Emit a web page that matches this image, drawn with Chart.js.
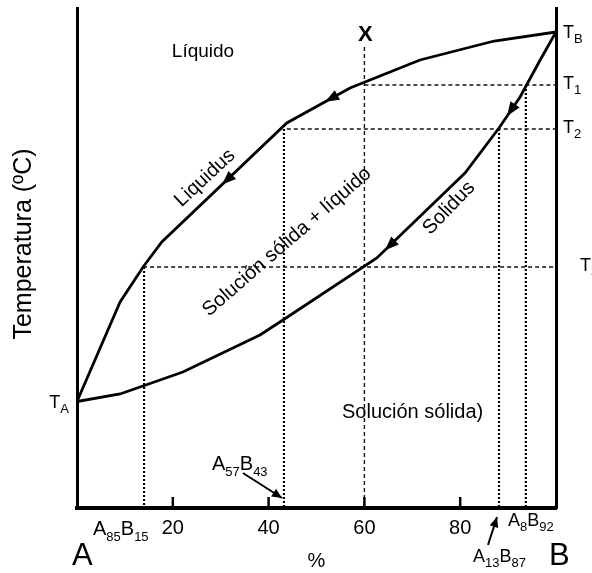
<!DOCTYPE html>
<html>
<head>
<meta charset="utf-8">
<script src="https://cdn.jsdelivr.net/npm/chart.js@4.4.1/dist/chart.umd.min.js"></script>
<style>
  html, body { margin: 0; padding: 0; background: #fff; }
</style>
</head>
<body>
<canvas id="phase" width="592" height="573"></canvas>
<script>
// curves of the A-B diagram: x = % B, y = temperature (relative units, no scale shown)
const liquidusX = [0, 4.2, 9, 13.8, 17.7, 43.8, 57, 71.6, 87.1, 100];
const liquidusY = [21.3, 30.6, 41.2, 48.2, 53.2, 77, 84, 89.6, 93.4, 95.2];
const solidusX = [0, 9, 22.1, 38.2, 43, 62.6, 81, 88.1, 92.5, 96.7, 100];
const solidusY = [21.3, 22.8, 27.2, 34.6, 37.6, 50, 67, 76, 82.2, 89.6, 95.2];

// isotherms T1, T2, T3 and the x where each dashed line starts
const isoNames = ['1', '2', '3'];
const isoTemps = [84.6, 75.8, 48.2];
const isoStartX = [60, 43.8, 13.8];

// compositions read on the isotherms (dotted verticals)
const compX = [14, 43.2, 88.1, 93.7];
const compTop = [48.2, 75.8, 75.8, 84.6];

// alloy X
const alloyX = 60;
const alloyTop = 92.2;

const xTicks = [20, 40, 60, 80];
const tempA = 21.3;
const tempB = 95.2;

// where the arrow tips sit on each curve (x in % B)
const liquidusArrows = [51.8, 30.3];
const solidusArrows = [89.8, 64.3];

const FONT = '"Liberation Sans", Arial, sans-serif';
const toPts = (xs, ys) => xs.map((x, i) => ({ x: x, y: ys[i] }));

const datasets = [
  { data: toPts(liquidusX, liquidusY), borderColor: '#000', borderWidth: 2.8 },
  { data: toPts(solidusX, solidusY), borderColor: '#000', borderWidth: 2.8 }
];
isoTemps.forEach((t, i) => {
  datasets.push({ data: [{ x: isoStartX[i], y: t }, { x: 100, y: t }],
    borderColor: '#111', borderWidth: 1.4, borderDash: [4, 3] });
});
compX.forEach((c, i) => {
  datasets.push({ data: [{ x: c, y: compTop[i] }, { x: c, y: 0 }],
    borderColor: '#000', borderWidth: 2.2, borderDash: [2, 2] });
});
datasets.push({ data: [{ x: alloyX, y: alloyTop }, { x: alloyX, y: 0 }],
  borderColor: '#111', borderWidth: 1.4, borderDash: [4, 3] });

function interp(xs, ys, x) {
  for (let i = 0; i < xs.length - 1; i++) {
    if (x >= xs[i] && x <= xs[i + 1]) {
      const f = (x - xs[i]) / (xs[i + 1] - xs[i]);
      return { y: ys[i] + f * (ys[i + 1] - ys[i]), i: i };
    }
  }
  return { y: ys[ys.length - 1], i: xs.length - 2 };
}

function arrowHead(ctx, tx, ty, dx, dy, len, half) {
  const n = Math.hypot(dx, dy);
  const ux = dx / n, uy = dy / n;
  const bx = tx - ux * len, by = ty - uy * len;
  ctx.beginPath();
  ctx.moveTo(tx, ty);
  ctx.lineTo(bx - uy * half, by + ux * half);
  ctx.lineTo(bx + uy * half, by - ux * half);
  ctx.closePath();
  ctx.fill();
}

// text like A57B43 : even parts normal, odd parts subscript
function subText(ctx, parts, x, y, big, small, draw) {
  let cx = x;
  parts.forEach((p, i) => {
    const isSub = i % 2 === 1;
    ctx.font = (isSub ? small : big) + 'px ' + FONT;
    if (draw) ctx.fillText(p, cx, isSub ? y + Math.round(big * 0.28) : y);
    cx += ctx.measureText(p).width;
  });
  return cx - x;
}

const decorations = {
  id: 'decorations',
  afterDraw(chart) {
    const ctx = chart.ctx;
    const xs = chart.scales.x, ys = chart.scales.y;
    const ca = chart.chartArea;
    const px = v => xs.getPixelForValue(v);
    const py = v => ys.getPixelForValue(v);
    ctx.save();
    ctx.setLineDash([]);
    ctx.fillStyle = '#000';
    ctx.strokeStyle = '#000';
    ctx.lineCap = 'butt';

    // inward tick marks
    ctx.lineWidth = 2.5;
    xTicks.forEach(t => {
      ctx.beginPath();
      ctx.moveTo(px(t), ca.bottom);
      ctx.lineTo(px(t), ca.bottom - 11);
      ctx.stroke();
    });

    // arrows along the curves, pointing to lower temperature
    const curveArrows = (cx, cy, list) => list.forEach(x => {
      const r = interp(cx, cy, x);
      const dx = px(cx[r.i]) - px(cx[r.i + 1]);
      const dy = py(cy[r.i]) - py(cy[r.i + 1]);
      arrowHead(ctx, px(x), py(r.y), dx, dy, 14, 5.5);
    });
    curveArrows(liquidusX, liquidusY, liquidusArrows);
    curveArrows(solidusX, solidusY, solidusArrows);

    // pointer arrows for A57B43 and A13B87
    const pointer = (x0, y0, x1, y1) => {
      ctx.lineWidth = 2;
      ctx.beginPath();
      ctx.moveTo(x0, y0);
      ctx.lineTo(x1, y1);
      ctx.stroke();
      arrowHead(ctx, x1, y1, x1 - x0, y1 - y0, 10, 4.5);
    };
    pointer(ca.left + 166, ca.bottom - 35, ca.left + 205, ca.bottom - 10);
    pointer(ca.left + 411, ca.bottom + 37, ca.left + 420, ca.bottom + 9);

    // region labels
    ctx.textBaseline = 'middle';
    ctx.textAlign = 'center';
    ctx.font = '19px ' + FONT;
    ctx.fillText('Líquido', ca.left + 126, ca.top + 44);
    ctx.font = 'bold 22px ' + FONT;
    ctx.fillText('X', px(alloyX) + 1, ca.top + 27);

    const rotated = (txt, cx, cy, deg, size) => {
      ctx.save();
      ctx.translate(cx, cy);
      ctx.rotate(deg * Math.PI / 180);
      ctx.font = size + 'px ' + FONT;
      ctx.fillText(txt, 0, 0);
      ctx.restore();
    };
    rotated('Liquidus', ca.left + 128, ca.top + 170, -43, 20);
    rotated('Solución sólida + líquido', ca.left + 210, ca.top + 234, -41, 20);
    rotated('Solidus', ca.left + 372, ca.top + 200, -46, 20);
    rotated('Temperatura (ºC)', 24, 244, -90, 25);

    ctx.textAlign = 'left';
    ctx.textBaseline = 'alphabetic';
    ctx.font = '20px ' + FONT;
    ctx.fillText('Solución sólida)', ca.left + 265, ca.bottom - 90);

    // temperature labels
    subText(ctx, ['T', 'B'], ca.right + 7, py(tempB) + 6, 18, 13, true);
    isoNames.forEach((n, i) => {
      const lx = ca.right + (i === 2 ? 24 : 7);
      subText(ctx, ['T', n], lx, py(isoTemps[i]) + 4, 18, 13, true);
    });
    const wA = subText(ctx, ['T', 'A'], 0, 0, 18, 13, false);
    subText(ctx, ['T', 'A'], ca.left - 8 - wA, py(tempA) + 6, 18, 13, true);

    // composition labels
    subText(ctx, ['A', '85', 'B', '15'], ca.left + 16, ca.bottom + 27, 20, 13, true);
    subText(ctx, ['A', '57', 'B', '43'], ca.left + 135, ca.bottom - 38, 20, 13, true);
    subText(ctx, ['A', '8', 'B', '92'], ca.left + 431, ca.bottom + 18, 18, 13, true);
    subText(ctx, ['A', '13', 'B', '87'], ca.left + 396, ca.bottom + 54, 18, 13, true);

    ctx.font = '31px ' + FONT;
    ctx.fillText('A', ca.left - 5, ca.bottom + 57);
    ctx.fillText('B', ca.right - 7, ca.bottom + 57);
    ctx.restore();
  }
};

new Chart(document.getElementById('phase'), {
  type: 'line',
  data: { datasets: datasets },
  options: {
    responsive: false,
    animation: false,
    parsing: false,
    layout: { padding: { left: 77, right: 36, top: 8, bottom: 0 } },
    elements: { point: { radius: 0, hoverRadius: 0 }, line: { tension: 0, fill: false } },
    plugins: { legend: { display: false }, tooltip: { enabled: false } },
    scales: {
      x: {
        type: 'linear',
        min: 0,
        max: 100,
        afterFit: s => { s.height = 65; },
        grid: { display: false },
        border: { display: true, color: '#000', width: 4 },
        ticks: {
          stepSize: 20,
          padding: 0,
          color: '#000',
          font: { family: FONT, size: 20 },
          callback: v => (xTicks.includes(v) ? String(v) : '')
        },
        title: { display: true, text: '%', color: '#000', padding: 0, font: { family: FONT, size: 20 } }
      },
      y: {
        min: 0,
        max: 100,
        afterFit: s => { s.width = 0; },
        grid: { display: false },
        border: { display: true, color: '#000', width: 3 },
        ticks: { display: false }
      },
      y2: {
        position: 'right',
        min: 0,
        max: 100,
        afterFit: s => { s.width = 0; },
        grid: { display: false },
        border: { display: true, color: '#000', width: 3 },
        ticks: { display: false }
      }
    }
  },
  plugins: [decorations]
});
</script>
</body>
</html>
